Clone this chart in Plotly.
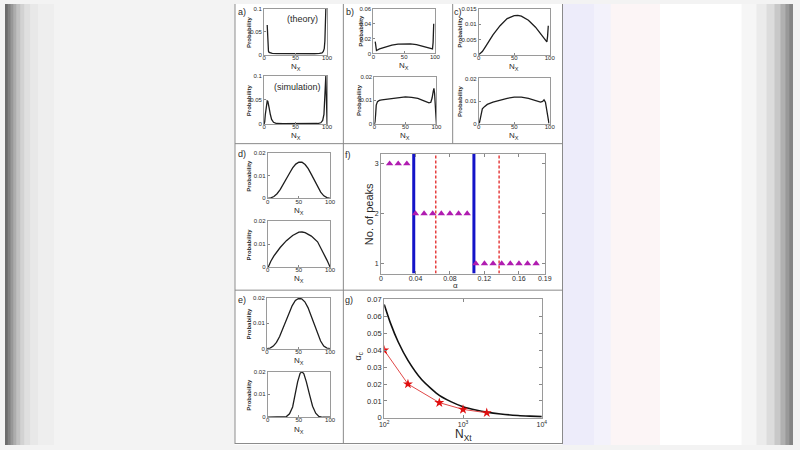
import plotly.graph_objects as go

# ---------------- data ----------------
NX_TICKS = [0, 50, 100]

a1_x = [5, 5.5, 6, 7, 8, 10, 13, 20, 35, 50, 65, 80, 88, 92, 94, 95.5, 96.5, 97.3, 98]
a1_y = [0.065, 0.03, 0.015, 0.008, 0.005, 0.0035, 0.0028, 0.0022, 0.0018, 0.0017, 0.0017, 0.002, 0.0028, 0.004, 0.007, 0.013, 0.03, 0.06, 0.1]

a2_x = [0, 1, 2, 3, 4, 5, 6, 7, 8, 10, 12, 15, 20, 30, 50, 70, 85, 90, 93, 95, 96, 97, 98, 99, 100]
a2_y = [0, 0.005, 0.02, 0.035, 0.044, 0.048, 0.047, 0.042, 0.034, 0.02, 0.01, 0.004, 0.0015, 0.001, 0.001, 0.001, 0.0015, 0.003, 0.008, 0.02, 0.04, 0.07, 0.1, 0.05, 0]

b1_x = [3, 3.5, 4, 5, 10, 20, 30, 40, 50, 55, 60, 70, 80, 90, 95, 96, 97, 98]
b1_y = [0.016, 0.01, 0.005, 0.004, 0.0062, 0.009, 0.0113, 0.0127, 0.0133, 0.0133, 0.013, 0.012, 0.0097, 0.0072, 0.0057, 0.0062, 0.015, 0.04]

b2_x = [0, 1, 2, 3, 5, 8, 12, 20, 30, 40, 50, 60, 70, 80, 88, 91, 93, 95, 96, 97, 98, 99, 100]
b2_y = [0, 0.001, 0.004, 0.008, 0.0095, 0.01, 0.0102, 0.0105, 0.011, 0.0113, 0.0115, 0.0113, 0.0108, 0.0098, 0.009, 0.0092, 0.011, 0.014, 0.015, 0.013, 0.006, 0.001, 0]

c1_x = [0, 2, 5, 10, 20, 30, 40, 50, 55, 60, 70, 80, 90, 94, 96, 97, 98]
c1_y = [0, 0.0003, 0.001, 0.0028, 0.0065, 0.0095, 0.0118, 0.0128, 0.0129, 0.0126, 0.0113, 0.009, 0.0062, 0.0047, 0.0042, 0.006, 0.0095]

c2_x = [0, 1, 2, 3, 5, 8, 12, 20, 30, 40, 50, 55, 60, 70, 80, 87, 90, 92, 94, 96, 97, 98, 99]
c2_y = [0, 0.0005, 0.002, 0.004, 0.0065, 0.0075, 0.0085, 0.0095, 0.0105, 0.0112, 0.0117, 0.0118, 0.0117, 0.0112, 0.0102, 0.0095, 0.0098, 0.0105, 0.0095, 0.006, 0.003, 0.001, 0]

d1_x = [0, 5, 10, 15, 20, 25, 30, 35, 40, 45, 50, 55, 60, 65, 70, 75, 80, 85, 90, 95, 100]
d1_y = [0, 0.0002, 0.0008, 0.002, 0.0038, 0.006, 0.0085, 0.011, 0.0133, 0.015, 0.0158, 0.0158, 0.0148, 0.013, 0.0105, 0.0077, 0.005, 0.0027, 0.0011, 0.0003, 0]

d2_x = [1, 5, 10, 20, 30, 40, 50, 55, 60, 70, 80, 85, 90, 95, 100]
d2_y = [0, 0.0025, 0.0048, 0.0085, 0.0115, 0.0138, 0.0152, 0.0153, 0.015, 0.0135, 0.011, 0.0085, 0.006, 0.003, 0]

e1_x = [0, 5, 10, 15, 20, 25, 30, 35, 40, 45, 50, 55, 60, 65, 70, 75, 80, 85, 90, 95, 100]
e1_y = [0, 0.0002, 0.001, 0.0025, 0.0048, 0.0078, 0.011, 0.0143, 0.017, 0.019, 0.0198, 0.0197, 0.0185, 0.0162, 0.013, 0.0095, 0.006, 0.003, 0.001, 0.0002, 0]

e2_x = [0, 25, 30, 35, 40, 44, 48, 52, 55, 58, 62, 67, 72, 77, 82, 88, 100]
e2_y = [0, 0, 0.0003, 0.0015, 0.0045, 0.01, 0.0155, 0.0192, 0.0199, 0.019, 0.0155, 0.01, 0.0048, 0.0018, 0.0004, 0, 0]

# panel f
f_alpha_3 = [0.01, 0.02, 0.03]
f_peaks_3 = [3, 3, 3]
f_alpha_2 = [0.04, 0.05, 0.06, 0.07, 0.08, 0.09, 0.10]
f_peaks_2 = [2, 2, 2, 2, 2, 2, 2]
f_alpha_1 = [0.11, 0.12, 0.13, 0.14, 0.15, 0.16, 0.17, 0.18]
f_peaks_1 = [1, 1, 1, 1, 1, 1, 1, 1]
f_blue_alpha = [0.038, 0.1078]
f_red_alpha = [0.0636, 0.137]
f_xticks = [0, 0.04, 0.08, 0.12, 0.16, 0.19]
f_yticks = [1, 2, 3]

# panel g
g_theory_N = [100, 120, 150, 200, 300, 400, 500, 700, 1000, 1500, 2000, 3000, 5000, 7000, 10000]
g_theory_a = [0.067, 0.056, 0.045, 0.034, 0.0225, 0.017, 0.0133, 0.0096, 0.0066, 0.0045, 0.0034, 0.0023, 0.0014, 0.001, 0.0007]
g_sim_N = [100, 200, 500, 1000, 2000]
g_sim_a = [0.04, 0.02, 0.009, 0.005, 0.003]
g_yticks = [0, 0.01, 0.02, 0.03, 0.04, 0.05, 0.06, 0.07]
g_xticks = [100, 1000, 10000]

# ---------------- figure ----------------
W, H = 800, 450
FONT = "Liberation Sans, Arial, sans-serif"
TXT = "#2a2a2a"


def fx(x):
    return x / W


def fy(y):
    return 1 - y / H


def note(x, y, text, size, angle=0):
    return dict(xref='paper', yref='paper', x=fx(x), y=fy(y), text=text, textangle=angle,
                showarrow=False, xanchor='center', yanchor='middle',
                font=dict(family=FONT, size=size, color=TXT))


fig = go.Figure()
layout = {}
annotations = []
shapes = []

# background gradient strips
bg_strips = [
    (0, 3, '#6c6c6c'), (3, 6, '#828282'), (6, 9, '#989898'), (9, 12, '#adadad'),
    (12, 16, '#c1c1c1'), (16, 20, '#d2d2d2'), (20, 26, '#dfdfdf'), (26, 34, '#e8e8e8'),
    (34, 50, '#eeeeee'), (50, 233, '#f3f3f3'),
    (233, 566, '#ffffff'),
    (566, 598, '#edecfa'), (598, 615, '#f3f2fb'), (615, 665, '#fcf5f6'), (665, 748, '#ffffff'),
    (748, 763, '#f6f6f6'), (763, 773, '#ebebeb'), (773, 781, '#dcdcdc'), (781, 787, '#c8c8c8'),
    (787, 792, '#b0b0b0'), (792, 796, '#999999'), (796, 800, '#858585'),
]
for x0, x1, c in bg_strips:
    shapes.append(dict(type='rect', xref='paper', yref='paper', x0=fx(x0), x1=fx(x1), y0=0, y1=1,
                       fillcolor=c, line=dict(width=0), layer='below'))

# panel borders
border = '#8a8a8a'
for (x0, y0, x1, y1) in [(233.5, 0, 233.5, 449), (566, 0, 566, 449), (343.5, 0, 343.5, 449),
                         (454.5, 0, 454.5, 142.5), (233.5, 142.5, 566, 142.5),
                         (233.5, 292, 566, 292), (233.5, 448.5, 566, 448.5)]:
    shapes.append(dict(type='line', xref='paper', yref='paper', x0=fx(x0), x1=fx(x1),
                       y0=fy(y0), y1=fy(y1), line=dict(color=border, width=1)))

small = [
    # name, box(x0,y0,x1,y1), x, y, ymax, yticks, yticktext, prob label x
    ('a1', (263, 5, 327, 51.7), a1_x, a1_y, 0.1, [0, 0.05, 0.1], ['0', '0.05', '0.1'], 248),
    ('a2', (263, 73, 327, 122.7), a2_x, a2_y, 0.1, [0, 0.05, 0.1], ['0', '0.05', '0.1'], 248),
    ('b1', (374, 5, 436.5, 50.5), b1_x, b1_y, 0.06, [0, 0.02, 0.04, 0.06], ['0', '0.02', '0.04', '0.06'], 362),
    ('b2', (375, 74, 438, 122.7), b2_x, b2_y, 0.02, [0, 0.01, 0.02], ['0', '0.01', '0.02'], 360),
    ('c1', (481, 5, 553, 51.7), c1_x, c1_y, 0.015, [0, 0.005, 0.01, 0.015], ['0', '0.005', '0.01', '0.015'], 462),
    ('c2', (481, 76, 553, 122), c2_x, c2_y, 0.02, [0, 0.01, 0.02], ['0', '0.01', '0.02'], 462),
    ('d1', (266.7, 151.7, 330, 198.3), d1_x, d1_y, 0.02, [0, 0.01, 0.02], ['0', '0.01', '0.02'], 248),
    ('d2', (266.7, 221.7, 330, 268.3), d2_x, d2_y, 0.02, [0, 0.01, 0.02], ['0', '0.01', '0.02'], 248),
    ('e1', (266, 300, 330, 351.7), e1_x, e1_y, 0.02, [0, 0.01, 0.02], ['0', '0.01', '0.02'], 248),
    ('e2', (266.7, 375, 330, 421.7), e2_x, e2_y, 0.02, [0, 0.01, 0.02], ['0', '0.01', '0.02'], 248),
]

ax_i = 0
tick_font = dict(family=FONT, size=6, color=TXT)
for name, (x0, y0, x1, y1), xs, ys, ymax, ytv, ytt, plx in small:
    ax_i += 1
    sx = '' if ax_i == 1 else str(ax_i)
    layout['xaxis' + sx] = dict(domain=[fx(x0), fx(x1)], anchor='y' + sx, range=[0, 100],
                                tickvals=NX_TICKS, ticktext=[str(t) for t in NX_TICKS],
                                ticks='inside', ticklen=2, tickcolor='#888', showline=True,
                                linecolor='#9a9a9a', linewidth=1, mirror=True, showgrid=False,
                                zeroline=False, tickfont=tick_font, ticklabelstandoff=-3)
    layout['yaxis' + sx] = dict(domain=[fy(y1), fy(y0)], anchor='x' + sx, range=[0, ymax],
                                tickvals=ytv, ticktext=ytt, ticks='inside', ticklen=2,
                                tickcolor='#888', showline=True, linecolor='#9a9a9a', linewidth=1,
                                mirror=True, showgrid=False, zeroline=False, tickfont=tick_font)
    fig.add_trace(go.Scatter(x=xs, y=ys, mode='lines', line=dict(color='#1e1e1e', width=1.3),
                             xaxis='x' + sx, yaxis='y' + sx, showlegend=False, hoverinfo='skip'))
    annotations.append(note(plx, (y0 + y1) / 2, '<b>Probability</b>', 6, -90))
    annotations.append(note((x0 + x1) / 2, y1 + 12.5, 'N<sub>X</sub>', 8))

# panel f
ax_i += 1
sf = str(ax_i)
layout['xaxis' + sf] = dict(domain=[fx(381.7), fx(548)], anchor='y' + sf, range=[0, 0.19],
                            tickvals=f_xticks, ticktext=['0', '0.04', '0.08', '0.12', '0.16', '0.19'],
                            ticks='inside', ticklen=3, tickcolor='#888', showline=True,
                            linecolor='#9a9a9a', mirror='ticks', showgrid=False, zeroline=False,
                            tickfont=dict(family=FONT, size=7, color=TXT), ticklabelstandoff=-2)
layout['yaxis' + sf] = dict(domain=[fy(275), fy(152.7)], anchor='x' + sf, range=[0.8, 3.2],
                            tickvals=f_yticks, ticks='inside', ticklen=3, tickcolor='#888',
                            showline=True, linecolor='#9a9a9a', mirror='ticks', showgrid=False,
                            zeroline=False, tickfont=dict(family=FONT, size=7, color=TXT))
for a in f_blue_alpha:
    fig.add_trace(go.Scatter(x=[a, a], y=[0.8, 3.2], mode='lines', line=dict(color='#1414c8', width=3),
                             xaxis='x' + sf, yaxis='y' + sf, showlegend=False, hoverinfo='skip'))
for a in f_red_alpha:
    fig.add_trace(go.Scatter(x=[a, a], y=[0.8, 3.2], mode='lines',
                             line=dict(color='#e01010', width=1.2, dash='3px,2px'),
                             xaxis='x' + sf, yaxis='y' + sf, showlegend=False, hoverinfo='skip'))
for xs, ys in [(f_alpha_3, f_peaks_3), (f_alpha_2, f_peaks_2), (f_alpha_1, f_peaks_1)]:
    fig.add_trace(go.Scatter(x=xs, y=ys, mode='markers',
                             marker=dict(symbol='triangle-up', size=6.5, color='#b01cb0'),
                             xaxis='x' + sf, yaxis='y' + sf, showlegend=False, hoverinfo='skip'))
annotations.append(note(369, 214, 'No. of peaks', 11, -90))
annotations.append(note(457, 287.5, 'α', 8))

# panel g
ax_i += 1
sg = str(ax_i)
layout['xaxis' + sg] = dict(domain=[fx(385), fx(545)], anchor='y' + sg, type='log',
                            range=[2, 4], tickvals=g_xticks,
                            ticktext=['10<sup>2</sup>', '10<sup>3</sup>', '10<sup>4</sup>'],
                            ticks='inside', ticklen=3, tickcolor='#888', showline=True,
                            linecolor='#9a9a9a', mirror='ticks', showgrid=False, zeroline=False,
                            tickfont=dict(family=FONT, size=7, color=TXT), ticklabelstandoff=0)
layout['yaxis' + sg] = dict(domain=[fy(422.3), fy(301.5)], anchor='x' + sg, range=[0, 0.07],
                            tickvals=g_yticks, ticktext=['0', '0.01', '0.02', '0.03', '0.04', '0.05', '0.06', '0.07'],
                            ticks='inside', ticklen=3, tickcolor='#888', showline=True,
                            linecolor='#9a9a9a', mirror='ticks', showgrid=False, zeroline=False,
                            tickfont=dict(family=FONT, size=7.5, color=TXT))
fig.add_trace(go.Scatter(x=g_theory_N, y=g_theory_a, mode='lines', line=dict(color='#111', width=1.6, shape='spline', smoothing=0.6),
                         xaxis='x' + sg, yaxis='y' + sg, showlegend=False, hoverinfo='skip'))
fig.add_trace(go.Scatter(x=g_sim_N, y=g_sim_a, mode='lines+markers', line=dict(color='#e04848', width=1),
                         marker=dict(symbol='star', size=7.5, color='#e01010'),
                         xaxis='x' + sg, yaxis='y' + sg, showlegend=False, hoverinfo='skip'))
annotations.append(note(359, 360, 'α<sub>c</sub>', 9, -90))
annotations.append(note(465, 440, 'N<sub>Xt</sub>', 12))

# theory / simulation labels
annotations.append(note(302, 15, '(theory)', 9))
annotations.append(note(297, 85, '(simulation)', 9))

# panel letters
for t, x, y in [('a)', 241, 8), ('b)', 350, 8), ('c)', 460, 8), ('d)', 241, 153),
                ('f)', 348, 154), ('e)', 241, 302), ('g)', 349, 302)]:
    annotations.append(note(x, y, t, 9))

fig.update_layout(width=W, height=H, margin=dict(l=0, r=0, t=0, b=0),
                  paper_bgcolor='#f3f3f3', plot_bgcolor='rgba(0,0,0,0)',
                  shapes=shapes, annotations=annotations, **layout)

page_fix = ("document.documentElement.style.margin='0';document.documentElement.style.padding='0';"
            "document.body.style.margin='0';document.body.style.padding='0';"
            "document.documentElement.style.overflow='hidden';document.body.style.overflow='hidden';"
            "var gd=document.getElementById('{plot_id}');gd.style.position='fixed';"
            "gd.style.left='0px';gd.style.top='0px';")
fig.write_html("out.html", config={'displayModeBar': False}, post_script=page_fix)
